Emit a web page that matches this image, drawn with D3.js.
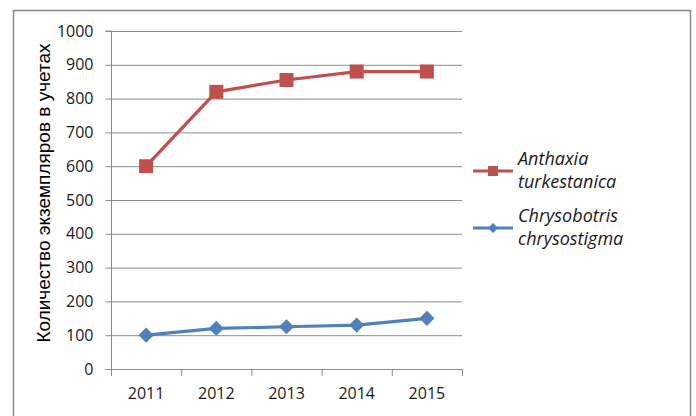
<!DOCTYPE html>
<html><head><meta charset="utf-8">
<script src="https://cdn.jsdelivr.net/npm/d3@7/dist/d3.min.js"></script>
<style>body{margin:0;background:#fff;} svg{display:block;}</style>
</head><body>
<svg id="c" width="696" height="416"></svg>
<script>
const years = ["2011","2012","2013","2014","2015"];
const anthaxia = [600, 820, 855, 880, 880];
const chrysobotris = [100, 120, 125, 130, 150];
const yTicks = [0,100,200,300,400,500,600,700,800,900,1000];
const yTitle = "Количество экземпляров в учетах";

const svg = d3.select("#c");
svg.append("rect").attr("x",13.5).attr("y",10.5).attr("width",677).attr("height",420)
  .attr("fill","#fff").attr("stroke","#868686").attr("stroke-width",1.5);

const L=111, R=462, T=31, B=369;
const x = d3.scaleBand().domain(years).range([L,R]);
const y = d3.scaleLinear().domain([0,1000]).range([B,T]);

// grid
svg.append("g").selectAll("line").data(yTicks.filter(d=>d>0)).join("line")
  .attr("x1",L).attr("x2",R).attr("y1",d=>y(d)+0.5).attr("y2",d=>y(d)+0.5)
  .attr("stroke","#8c8c8c").attr("stroke-width",1);

// y axis
const ya = svg.append("g").attr("transform",`translate(${L+0.5},0)`)
  .call(d3.axisLeft(y).tickValues(yTicks).tickFormat(d3.format("d")).tickSize(6).tickPadding(12));
ya.select(".domain").attr("stroke","#8c8c8c").attr("d",`M-6,${T}H0V${B}`);
ya.selectAll(".tick line").attr("stroke","#8c8c8c");
ya.selectAll("text").attr("font-family","Open Sans").attr("font-size",16).attr("fill","#1a1a1a");

// x axis
const xa = svg.append("g").attr("transform",`translate(0,${B+0.5})`)
  .call(d3.axisBottom(x).tickSize(0).tickPadding(18));
xa.select(".domain").attr("stroke","#8c8c8c").attr("d",`M${L},0H${R}`);
xa.selectAll("text").attr("font-family","Open Sans").attr("font-size",16).attr("fill","#1a1a1a");
svg.append("g").selectAll("line").data(d3.range(years.length+1)).join("line")
  .attr("x1",i=>L+i*x.step()+0.5).attr("x2",i=>L+i*x.step()+0.5)
  .attr("y1",B).attr("y2",B+7).attr("stroke","#8c8c8c");

// y title
svg.append("text").attr("transform","translate(50,193) rotate(-90)")
  .attr("text-anchor","middle").attr("font-family","Liberation Sans, Arial").attr("font-size",19)
  .attr("fill","#000").text(yTitle);

const cx = d => x(d)+x.bandwidth()/2;
const red="#C0504D", blue="#4F81BD";
const line = d3.line().x((d,i)=>cx(years[i])).y(d=>y(d));

svg.append("path").datum(anthaxia).attr("d",line).attr("fill","none").attr("stroke",red).attr("stroke-width",3.2);
svg.append("g").selectAll("rect").data(anthaxia).join("rect")
  .attr("x",(d,i)=>cx(years[i])-7).attr("y",d=>y(d)-7).attr("width",14).attr("height",14).attr("fill",red);

svg.append("path").datum(chrysobotris).attr("d",line).attr("fill","none").attr("stroke",blue).attr("stroke-width",3.2);
const dia = d3.symbol().type(d3.symbolSquare).size(115);
svg.append("g").selectAll("path").data(chrysobotris).join("path")
  .attr("d",dia).attr("transform",(d,i)=>`translate(${cx(years[i])},${y(d)}) rotate(45)`).attr("fill",blue);

// legend
const legDia = d3.symbol().type(d3.symbolSquare).size(50);
const leg = [
  {name:["Anthaxia","turkestanica"], color:red, type:"sq", y:171},
  {name:["Chrysobotris","chrysostigma"], color:blue, type:"dia", y:228}
];
leg.forEach(l=>{
  svg.append("line").attr("x1",473).attr("x2",513).attr("y1",l.y).attr("y2",l.y).attr("stroke",l.color).attr("stroke-width",3.2);
  if(l.type==="sq") svg.append("rect").attr("x",488).attr("y",l.y-5).attr("width",10).attr("height",10).attr("fill",l.color);
  else svg.append("path").attr("d",legDia).attr("transform",`translate(493,${l.y}) rotate(45)`).attr("fill",l.color);
  const t = svg.append("text").attr("font-family","Open Sans").attr("font-style","italic").attr("font-size",18).attr("fill","#1a1a1a");
  t.append("tspan").attr("x",518).attr("y",l.y-6).text(l.name[0]);
  t.append("tspan").attr("x",518).attr("y",l.y+17).text(l.name[1]);
});
</script>
</body></html>
